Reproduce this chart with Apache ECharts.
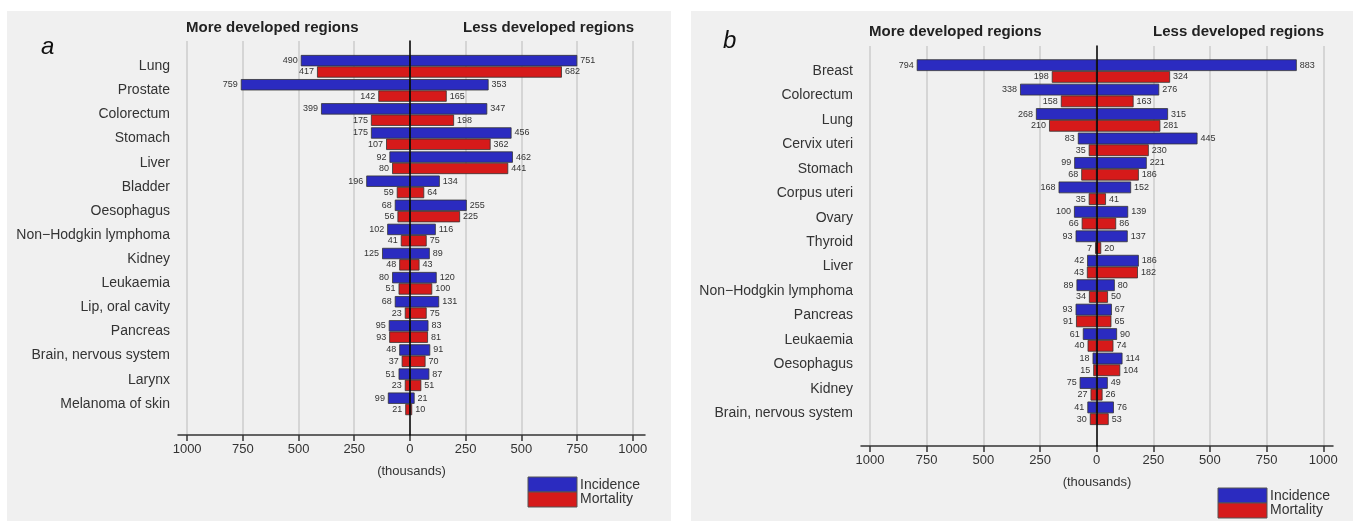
<!DOCTYPE html>
<html>
<head>
<meta charset="utf-8">
<script src="https://cdn.jsdelivr.net/npm/echarts@6/dist/echarts.min.js"></script>
<style>html,body{margin:0;padding:0;background:#fff}#c{width:1353px;height:521px}</style>
</head>
<body>
<div id="c"></div>
<script>
// Panel a
const catA = ['Lung','Prostate','Colorectum','Stomach','Liver','Bladder','Oesophagus','Non\u2212Hodgkin lymphoma','Kidney','Leukaemia','Lip, oral cavity','Pancreas','Brain, nervous system','Larynx','Melanoma of skin'];
const incMoreA  = [490,759,399,175,92,196,68,102,125,80,68,95,48,51,99];
const incLessA  = [751,353,347,456,462,134,255,116,89,120,131,83,91,87,21];
const mortMoreA = [417,142,175,107,80,59,56,41,48,51,23,93,37,23,21];
const mortLessA = [682,165,198,362,441,64,225,75,43,100,75,81,70,51,10];
// Panel b
const catB = ['Breast','Colorectum','Lung','Cervix uteri','Stomach','Corpus uteri','Ovary','Thyroid','Liver','Non\u2212Hodgkin lymphoma','Pancreas','Leukaemia','Oesophagus','Kidney','Brain, nervous system'];
const incMoreB  = [794,338,268,83,99,168,100,93,42,89,93,61,18,75,41];
const incLessB  = [883,276,315,445,221,152,139,137,186,80,67,90,114,49,76];
const mortMoreB = [198,158,210,35,68,35,66,7,43,34,91,40,15,27,30];
const mortLessB = [324,163,281,230,186,41,86,20,182,50,65,74,104,26,53];
// Tick labels
const tickValues = [-1000,-750,-500,-250,0,250,500,750,1000];
const headers = ['More developed regions','Less developed regions'];
const legendNames = ['Incidence','Mortality'];

const BLUE = '#2b2bc0', RED = '#d61a1a', TXT = '#333';
const FONT = 'Liberation Sans, Arial, sans-serif';

const chart = echarts.init(document.getElementById('c'), null, {renderer:'canvas'});

function axisGrid(idx){
  return {
    x: {gridIndex: idx, type:'value', min: idx===0?-1041:-1040, max: idx===0?1055:1043,
      name:'(thousands)', nameLocation:'middle', nameGap:30,
      nameTextStyle:{color:TXT, fontSize:13, fontFamily:FONT},
      axisLine:{show:true, onZero:false, lineStyle:{color:'#333', width:1.5}},
      axisTick:{show:true, length:6, customValues:tickValues, lineStyle:{color:'#333', width:1.5}},
      axisLabel:{customValues:tickValues, margin:8, color:TXT, fontSize:13, fontFamily:FONT, formatter:v=>String(Math.abs(v))},
      splitLine:{show:true, lineStyle:{color:'#cdcdcd', width:1.5}}},
    y: {gridIndex: idx, type:'value', min:0, max:1, z:10,
      axisLine:{show:true, onZero:true, lineStyle:{color:'#000', width:1.5}},
      axisTick:{show:false}, axisLabel:{show:false}, splitLine:{show:false}}
  };
}
function barAxes(idx, cats, min, max){
  return {
    x: {gridIndex: idx, type:'value', min:min, max:max, show:false},
    y: {gridIndex: idx, type:'category', inverse:true, data:cats,
      axisLine:{show:false}, axisTick:{show:false},
      axisLabel:{margin:8, color:TXT, fontSize:14, fontFamily:FONT, padding:[3,0,0,0]}}
  };
}
const gA = axisGrid(0), bA = barAxes(1, catA, -1041, 1055);
const gB = axisGrid(2), bB = barAxes(3, catB, -1040, 1043);

function barSeries(gi, arr, neg, color, stack, gap){
  return {
    type:'bar', xAxisIndex:gi, yAxisIndex:gi, stack:stack,
    data: arr.map(v => neg ? -v : v),
    barGap:'0%', barCategoryGap:gap,
    itemStyle:{color:color, borderColor:'#333', borderWidth:0.8},
    label:{show:true, position: neg?'left':'right', distance:3, color:TXT, fontSize:9, fontFamily:FONT,
      formatter: p => String(Math.abs(p.value))},
    emphasis:{disabled:true}, animation:false
  };
}

function legendGraphic(x, y){
  return [
    {type:'rect', shape:{x:x, y:y, width:49, height:15}, style:{fill:BLUE, stroke:'#555', lineWidth:1}},
    {type:'rect', shape:{x:x, y:y+15, width:49, height:15}, style:{fill:RED, stroke:'#555', lineWidth:1}},
    {type:'text', x:x+52, y:y+8, style:{text:legendNames[0], fill:TXT, font:'14px '+FONT, verticalAlign:'middle'}},
    {type:'text', x:x+52, y:y+22, style:{text:legendNames[1], fill:TXT, font:'14px '+FONT, verticalAlign:'middle'}}
  ];
}

const HSTYLE = {fontSize:15, fontWeight:'bold', color:'#222', fontFamily:FONT};
const option = {
  backgroundColor:'#ffffff',
  animation:false,
  title:[
    {text:headers[0], left:186, top:20, textStyle:HSTYLE, padding:0},
    {text:headers[1], right:1353-634, top:20, textStyle:HSTYLE, padding:0},
    {text:headers[0], left:869, top:24, textStyle:HSTYLE, padding:0},
    {text:headers[1], right:1353-1324, top:24, textStyle:HSTYLE, padding:0},
    {text:'a', left:41, top:35, textStyle:{fontSize:24, fontStyle:'italic', fontWeight:'normal', color:'#111', fontFamily:FONT}, padding:0},
    {text:'b', left:723, top:29, textStyle:{fontSize:24, fontStyle:'italic', fontWeight:'normal', color:'#111', fontFamily:FONT}, padding:0}
  ],
  grid:[
    {left:178, right:1353-645, top:41, bottom:521-435},
    {left:178, right:1353-645, top:54.25, bottom:521-415.9},
    {left:861, right:1353-1333, top:46, bottom:521-446},
    {left:861, right:1353-1333, top:58.8, bottom:521-425.5}
  ],
  xAxis:[gA.x, bA.x, gB.x, bB.x],
  yAxis:[gA.y, bA.y, gB.y, bB.y],
  series:[
    barSeries(1, incMoreA, true, BLUE, 'incA', '6%'),
    barSeries(1, incLessA, false, BLUE, 'incA', '6%'),
    barSeries(1, mortMoreA, true, RED, 'mortA', '6%'),
    barSeries(1, mortLessA, false, RED, 'mortA', '6%'),
    barSeries(3, incMoreB, true, BLUE, 'incB', '4%'),
    barSeries(3, incLessB, false, BLUE, 'incB', '4%'),
    barSeries(3, mortMoreB, true, RED, 'mortB', '4%'),
    barSeries(3, mortLessB, false, RED, 'mortB', '4%')
  ],
  graphic:[
    {type:'rect', z:-100, silent:true, shape:{x:7, y:11, width:664, height:510}, style:{fill:'#f0f0f0'}},
    {type:'rect', z:-100, silent:true, shape:{x:691, y:11, width:662, height:510}, style:{fill:'#f0f0f0'}},
    ...legendGraphic(528, 477),
    ...legendGraphic(1218, 488)
  ]
};
chart.setOption(option);
</script>
</body>
</html>
